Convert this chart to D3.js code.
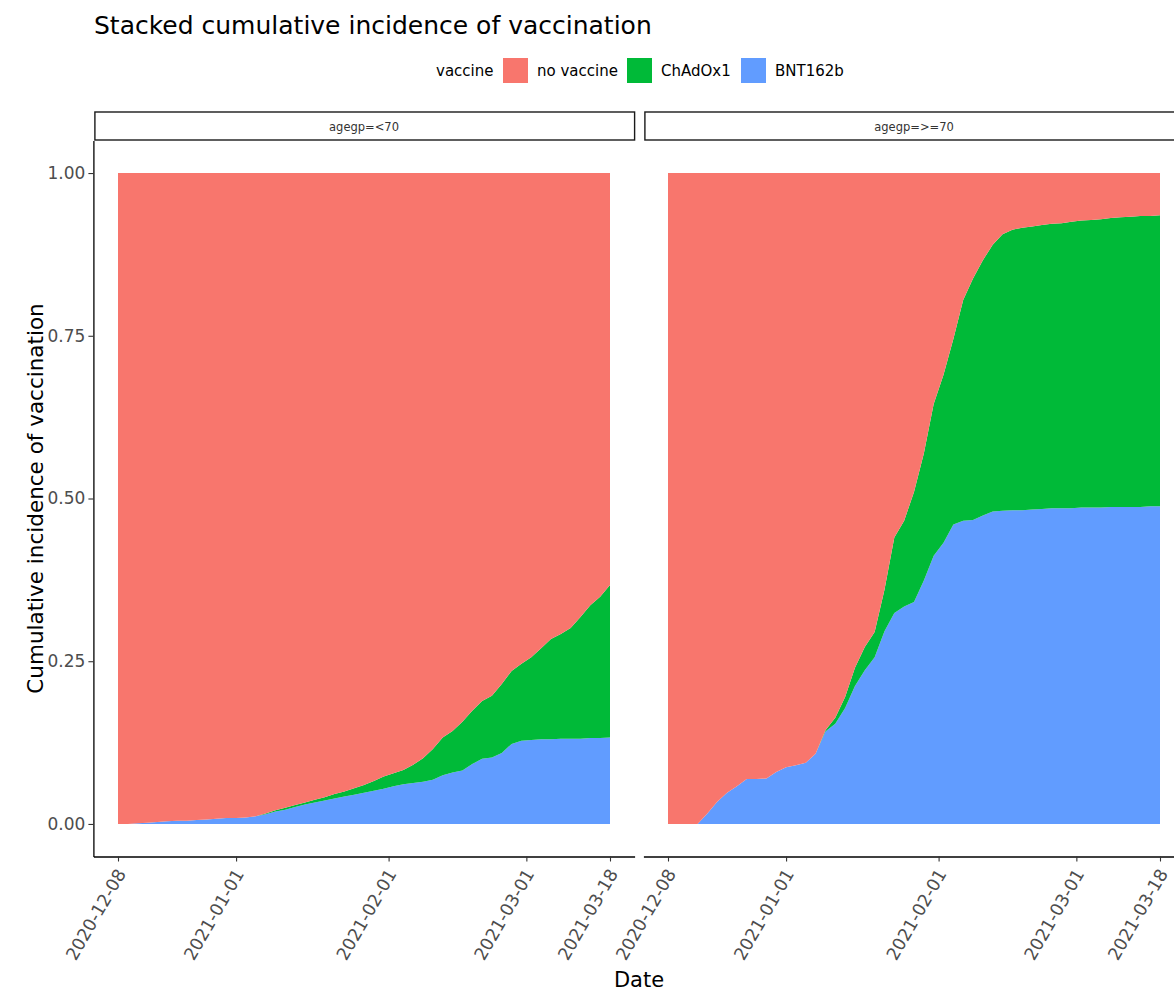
<!DOCTYPE html>
<html><head><meta charset="utf-8">
<script src="https://cdn.jsdelivr.net/npm/d3@7"></script>
<style>body{margin:0;background:#fff}text{font-family:"DejaVu Sans",sans-serif}</style>
</head><body><svg id="c" width="1174" height="992"></svg>
<script>
// ---------- data ----------
const startDate = "2020-12-08";
const endDate = "2021-03-18";
const dayOffsets = d3.range(0, 101, 2); // observation days since start
const seriesKeys = ["BNT162b", "ChAdOx1", "no vaccine"]; // stacking order bottom -> top
const legendKeys = ["no vaccine", "ChAdOx1", "BNT162b"];
const seriesColors = {"no vaccine": "#F8766D", "ChAdOx1": "#00BA38", "BNT162b": "#619CFF"};
const panelLabels = ["agegp=<70", "agegp=>=70"];
const xTickLabels = ["2020-12-08", "2021-01-01", "2021-02-01", "2021-03-01", "2021-03-18"];
const yTickValues = [0, 0.25, 0.5, 0.75, 1];

const under70_BNT162b = [0,0,0.001,0.002,0.003,0.004,0.005,0.005,0.006,0.007,0.008,0.009,0.009,0.010,0.012,0.015,0.019,0.022,0.026,0.030,0.033,0.036,0.039,0.042,0.045,0.048,0.051,0.054,0.058,0.061,0.063,0.065,0.068,0.075,0.079,0.082,0.092,0.100,0.102,0.109,0.123,0.128,0.129,0.130,0.130,0.131,0.131,0.131,0.132,0.132,0.133];
const under70_ChAdOx1 = [0,0,0,0,0,0,0,0,0,0,0,0,0,0,0,0.001,0.002,0.003,0.003,0.003,0.004,0.005,0.007,0.008,0.010,0.012,0.015,0.019,0.020,0.022,0.028,0.036,0.047,0.058,0.064,0.075,0.082,0.089,0.095,0.106,0.112,0.118,0.127,0.140,0.154,0.161,0.170,0.187,0.204,0.217,0.234];
const under70_noVaccine = [1,1,0.999,0.998,0.997,0.996,0.995,0.995,0.994,0.993,0.992,0.991,0.991,0.990,0.988,0.984,0.979,0.975,0.971,0.967,0.963,0.959,0.954,0.950,0.945,0.940,0.934,0.927,0.922,0.917,0.909,0.899,0.885,0.867,0.857,0.843,0.826,0.811,0.803,0.785,0.765,0.754,0.744,0.730,0.716,0.708,0.699,0.682,0.664,0.651,0.633];

const over70_BNT162b = [0,0,0,0,0.016,0.034,0.048,0.058,0.069,0.069,0.070,0.080,0.087,0.090,0.094,0.108,0.142,0.154,0.178,0.212,0.236,0.256,0.296,0.324,0.334,0.341,0.374,0.412,0.432,0.460,0.466,0.467,0.474,0.480,0.481,0.482,0.482,0.483,0.484,0.485,0.485,0.485,0.486,0.486,0.486,0.487,0.487,0.487,0.487,0.488,0.488];
const over70_ChAdOx1 = [0,0,0,0,0,0,0,0,0,0,0,0,0,0,0,0,0.002,0.009,0.017,0.028,0.036,0.039,0.064,0.116,0.132,0.169,0.195,0.233,0.258,0.285,0.339,0.371,0.392,0.410,0.425,0.431,0.434,0.435,0.436,0.437,0.438,0.440,0.441,0.442,0.443,0.444,0.445,0.446,0.447,0.446,0.447];
const over70_noVaccine = [1,1,1,1,0.984,0.966,0.952,0.942,0.931,0.931,0.930,0.920,0.913,0.910,0.906,0.892,0.856,0.837,0.805,0.760,0.728,0.705,0.640,0.560,0.534,0.490,0.431,0.355,0.310,0.255,0.195,0.162,0.134,0.110,0.094,0.087,0.084,0.082,0.080,0.078,0.077,0.075,0.073,0.072,0.071,0.069,0.068,0.067,0.066,0.066,0.065];

// ---------- build ----------
const parse = d3.utcParse("%Y-%m-%d");
const t0 = parse(startDate), t1 = parse(endDate);
const dates = dayOffsets.map(d => d3.utcDay.offset(t0, d));
function rows(bnt, chad, nov) {
  return dates.map((dt, i) => ({date: dt, "BNT162b": bnt[i], "ChAdOx1": chad[i], "no vaccine": nov[i]}));
}
const panelData = [
  rows(under70_BNT162b, under70_ChAdOx1, under70_noVaccine),
  rows(over70_BNT162b, over70_ChAdOx1, over70_noVaccine)
];

const svg = d3.select("#c");
const panelRanges = [[93.4, 634.6], [643.4, 1184.6]];
const yTop = 140.5, yBot = 856.5;
const pad = 5; // days of expansion
const y = d3.scaleLinear().domain([-0.05, 1.05]).range([yBot, yTop]);
const stack = d3.stack().keys(seriesKeys);

// title
svg.append("text").attr("x", 94).attr("y", 34).attr("font-size", 25).attr("fill", "#000")
  .text("Stacked cumulative incidence of vaccination");

// legend
const lg = svg.append("g");
lg.append("text").attr("x", 436).attr("y", 76).attr("font-size", 15).attr("fill", "#000").text("vaccine");
const legendX = [503, 627, 741];
legendKeys.forEach((k, i) => {
  lg.append("rect").attr("x", legendX[i]).attr("y", 58).attr("width", 25).attr("height", 25).attr("fill", seriesColors[k]);
  lg.append("text").attr("x", legendX[i] + 34).attr("y", 76).attr("font-size", 15).attr("fill", "#000").text(k);
});

panelData.forEach((data, p) => {
  const x = d3.scaleUtc().domain([d3.utcDay.offset(t0, -pad), d3.utcDay.offset(t1, pad)]).range(panelRanges[p]);
  const g = svg.append("g");
  const series = stack(data);
  const area = d3.area().x(d => x(d.data.date)).y0(d => y(d[0])).y1(d => y(d[1]));
  g.selectAll("path.a").data(series).join("path").attr("class", "a")
    .attr("d", area).attr("fill", d => seriesColors[d.key]);

  // strip
  const [xa, xb] = panelRanges[p];
  g.append("rect").attr("x", xa + 1.5).attr("y", 112).attr("width", xb - xa - 1.5).attr("height", 28)
    .attr("fill", "#fff").attr("stroke", "#1a1a1a").attr("stroke-width", 1.4);
  g.append("text").attr("x", (xa + xb) / 2).attr("y", 131).attr("text-anchor", "middle")
    .attr("font-size", 11.5).attr("fill", "#333").text(panelLabels[p]);

  // x axis
  const xAxis = d3.axisBottom(x).tickValues(xTickLabels.map(parse)).tickFormat(d3.utcFormat("%Y-%m-%d"))
    .tickSize(5).tickSizeOuter(0);
  const ax = g.append("g").attr("transform", `translate(0,${yBot})`).call(xAxis);
  ax.select(".domain").attr("stroke", "#000").attr("stroke-width", 1.3);
  ax.selectAll(".tick line").attr("stroke", "#333").attr("stroke-width", 1.1);
  ax.selectAll(".tick text").attr("font-size", 17.5).attr("fill", "#4d4d4d")
    .attr("font-family", "DejaVu Sans")
    .attr("text-anchor", "end").attr("dy", null).attr("y", null)
    .attr("transform", "translate(8,17) rotate(-60)");

  if (p === 0) {
    const yAxis = d3.axisLeft(y).tickValues(yTickValues).tickFormat(d3.format(".2f")).tickSize(5).tickSizeOuter(0);
    const ay = g.append("g").attr("transform", `translate(${xa},0)`).call(yAxis);
    ay.select(".domain").attr("stroke", "#000").attr("stroke-width", 1.3);
    ay.selectAll(".tick line").attr("stroke", "#333").attr("stroke-width", 1.1);
    ay.selectAll(".tick text").attr("font-size", 17).attr("fill", "#4d4d4d").attr("font-family", "DejaVu Sans").attr("x", -8);
  }
});

// axis titles
svg.append("text").attr("transform", `translate(43,${(yTop + yBot) / 2}) rotate(-90)`)
  .attr("text-anchor", "middle").attr("font-size", 21.5).attr("fill", "#000")
  .text("Cumulative incidence of vaccination");
svg.append("text").attr("x", 639).attr("y", 987).attr("text-anchor", "middle")
  .attr("font-size", 21).attr("fill", "#000").text("Date");
</script></body></html>
